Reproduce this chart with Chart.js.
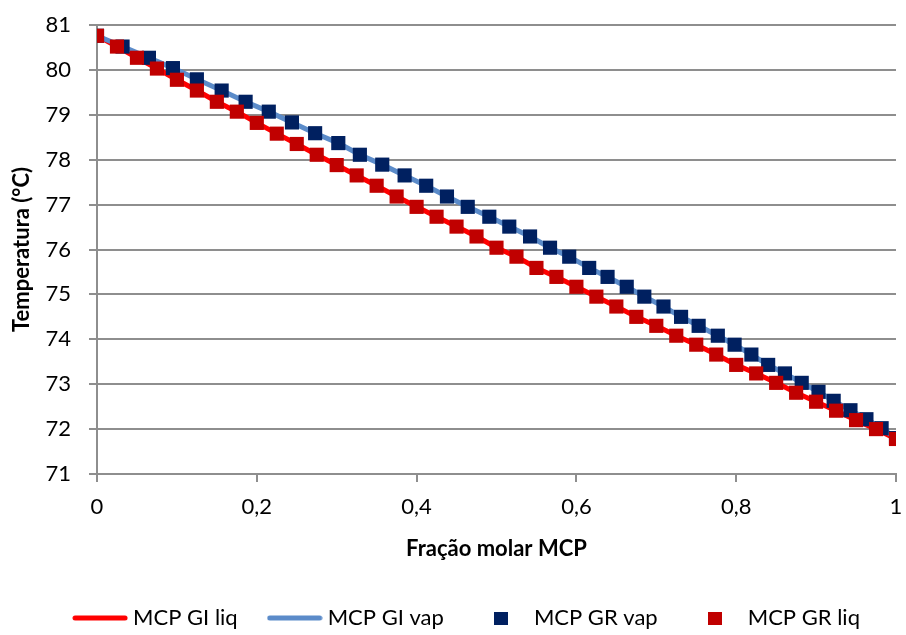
<!DOCTYPE html>
<html lang="pt">
<head>
<meta charset="UTF-8">
<title>Temperatura x fração molar MCP</title>
<script src="https://cdn.jsdelivr.net/npm/chart.js"></script>
<style>
  html, body { margin: 0; padding: 0; background: #fff; }
  #wrap { width: 906px; height: 635px; }
</style>
</head>
<body>
<div id="wrap"><canvas id="tempChart" width="906" height="635"></canvas></div>
<script>
// liquid composition (x) and vapour composition (y) of MCP
const fracLiq = [0, 0.025, 0.05, 0.075, 0.1, 0.125, 0.15, 0.175, 0.2, 0.225,
                 0.25, 0.275, 0.3, 0.325, 0.35, 0.375, 0.4, 0.425, 0.45, 0.475,
                 0.5, 0.525, 0.55, 0.575, 0.6, 0.625, 0.65, 0.675, 0.7, 0.725,
                 0.75, 0.775, 0.8, 0.825, 0.85, 0.875, 0.9, 0.925, 0.95, 0.975, 1];
const fracVap = [0, 0.032, 0.065, 0.095, 0.125, 0.156, 0.186, 0.215, 0.244, 0.273,
                 0.302, 0.329, 0.357, 0.385, 0.412, 0.438, 0.464, 0.491, 0.516, 0.542,
                 0.567, 0.591, 0.616, 0.639, 0.663, 0.685, 0.709, 0.731, 0.753, 0.777,
                 0.798, 0.819, 0.840, 0.861, 0.882, 0.903, 0.922, 0.943, 0.963, 0.982, 1];
// temperatures (°C)
const tempLiq = [80.76, 80.52, 80.27, 80.03, 79.78, 79.54, 79.29, 79.07, 78.82, 78.58,
                 78.35, 78.11, 77.88, 77.65, 77.42, 77.18, 76.95, 76.73, 76.51, 76.29,
                 76.04, 75.84, 75.59, 75.39, 75.17, 74.95, 74.73, 74.50, 74.30, 74.08,
                 73.88, 73.66, 73.43, 73.24, 73.03, 72.81, 72.61, 72.41, 72.20, 72.00, 71.78];
const tempVap = [80.76, 80.52, 80.27, 80.04, 79.79, 79.54, 79.29, 79.07, 78.83, 78.59,
                 78.37, 78.11, 77.89, 77.65, 77.42, 77.18, 76.95, 76.73, 76.51, 76.29,
                 76.04, 75.84, 75.59, 75.39, 75.17, 74.95, 74.73, 74.50, 74.30, 74.08,
                 73.88, 73.66, 73.43, 73.24, 73.03, 72.83, 72.63, 72.42, 72.22, 72.02, 71.80];

const seriesNames = ['MCP GI liq', 'MCP GI vap', 'MCP GR vap', 'MCP GR liq'];
const xTicks = [0, 0.2, 0.4, 0.6, 0.8, 1];

const toPoints = (xs, ys) => xs.map((x, i) => ({ x: x, y: ys[i] }));

// small canvases used as legend symbols
function lineIcon(color) {
    const c = document.createElement('canvas');
    c.width = 56; c.height = 6;
    const g = c.getContext('2d');
    g.strokeStyle = color; g.lineWidth = 5; g.lineCap = 'round';
    g.beginPath(); g.moveTo(3, 3); g.lineTo(53, 3); g.stroke();
    return c;
}
function squareIcon(color) {
    const c = document.createElement('canvas');
    c.width = 14; c.height = 13;
    const g = c.getContext('2d');
    g.fillStyle = color; g.fillRect(0, 0, 14, 13);
    return c;
}
const legendIcons = [lineIcon('#ff0000'), lineIcon('#5b8bc9'), squareIcon('#002060'), squareIcon('#c00000')];

Chart.defaults.font.family = 'Lato';
Chart.defaults.font.size = 22;
Chart.defaults.color = '#000';

const gridColor = '#8e8e8e';

// keep the legend strip a fixed height at the bottom, nudged a bit to the right
const legendStrip = {
    id: 'legendStrip',
    afterInit(chart) {
        const lg = chart.legend;
        const fit = lg.fit;
        lg.fit = function () { fit.call(this); this.height = 63; };
        lg.getPadding = () => ({ left: 0, top: 0, right: 0, bottom: 0 });
    },
    afterLayout(chart) {
        chart.legend.left += 20;
        chart.legend.right += 20;
    }
};

const ctx = document.getElementById('tempChart').getContext('2d');
const chart = new Chart(ctx, {
    type: 'line',
    data: {
        datasets: [
            {
                label: seriesNames[0],
                data: toPoints(fracLiq, tempLiq),
                borderColor: '#ff0000',
                borderWidth: 5,
                pointRadius: 0,
                fill: false,
                order: 4
            },
            {
                label: seriesNames[1],
                data: toPoints(fracVap, tempVap),
                borderColor: '#5b8bc9',
                borderWidth: 5,
                pointRadius: 0,
                fill: false,
                order: 3
            },
            {
                label: seriesNames[2],
                data: toPoints(fracVap, tempVap),
                showLine: false,
                pointStyle: 'rect',
                pointRadius: 10,
                pointBorderWidth: 0,
                pointBackgroundColor: '#002060',
                order: 2
            },
            {
                label: seriesNames[3],
                data: toPoints(fracLiq, tempLiq),
                showLine: false,
                pointStyle: 'rect',
                pointRadius: 10,
                pointBorderWidth: 0,
                pointBackgroundColor: '#c00000',
                order: 1
            }
        ]
    },
    options: {
        responsive: false,
        animation: false,
        layout: { padding: { top: 25, right: 8, left: 0, bottom: 0 } },
        plugins: {
            tooltip: { enabled: false },
            legend: {
                position: 'bottom',
                labels: {
                    usePointStyle: true,
                    pointStyleWidth: 44,
                    padding: 35,
                    font: { size: 22 },
                    sort: (a, b) => a.datasetIndex - b.datasetIndex,
                    generateLabels(chart) {
                        const items = Chart.defaults.plugins.legend.labels.generateLabels(chart);
                        items.forEach(it => { it.pointStyle = legendIcons[it.datasetIndex]; });
                        return items;
                    }
                }
            }
        },
        scales: {
            x: {
                type: 'linear',
                min: 0,
                max: 1,
                afterBuildTicks: scale => { scale.ticks = xTicks.map(v => ({ value: v })); },
                afterFit: scale => { scale.height = 98; scale.paddingRight = 0; scale.paddingLeft = 0; },
                ticks: {
                    padding: 12,
                    callback: v => String(v).replace('.', ',')
                },
                grid: { drawOnChartArea: false, tickLength: 8, color: gridColor, lineWidth: 2 },
                border: { color: gridColor, width: 2 },
                title: {
                    display: true,
                    text: 'Fração molar MCP',
                    font: { size: 22, weight: 'bold' },
                    padding: { top: 0, bottom: 10 }
                }
            },
            y: {
                min: 71,
                max: 81,
                ticks: { stepSize: 1, padding: 18 },
                afterFit: scale => { scale.width = 97; scale.paddingTop = 0; scale.paddingBottom = 0; },
                grid: { color: gridColor, lineWidth: 2, tickLength: 8 },
                border: { color: gridColor, width: 2 },
                title: {
                    display: true,
                    text: 'Temperatura (°C)',
                    font: { size: 22, weight: 'bold' },
                    padding: { top: 9, bottom: 0 }
                }
            }
        }
    },
    plugins: [legendStrip]
});
</script>
</body>
</html>
